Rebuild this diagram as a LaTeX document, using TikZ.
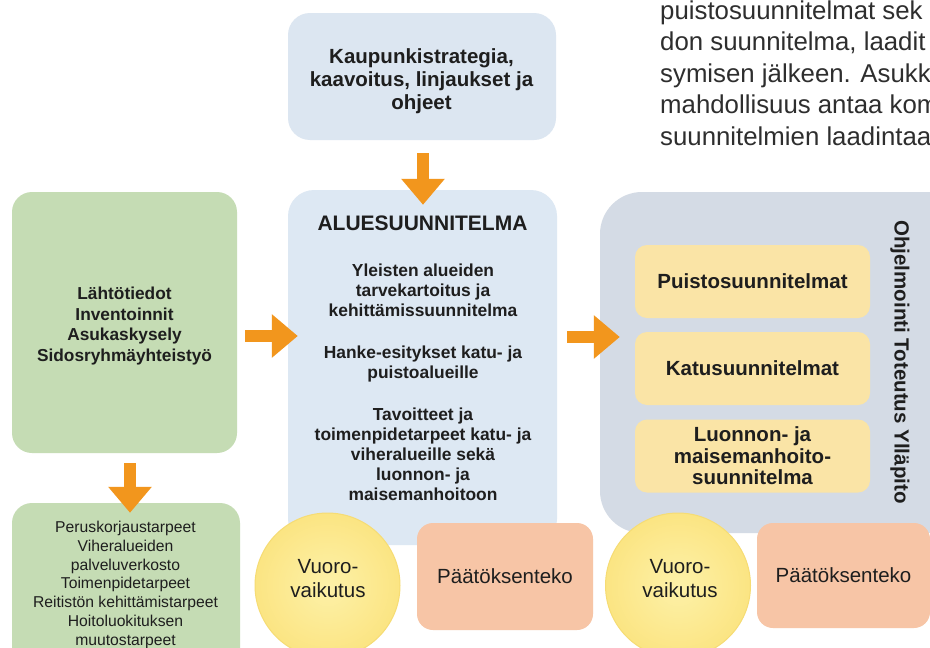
\documentclass[tikz,border=0pt]{standalone}
\usepackage{fontspec}
\setmainfont{Liberation Sans}
\usetikzlibrary{arrows.meta,calc}
\definecolor{blueA}{HTML}{DCE6F1}
\definecolor{blueB}{HTML}{DDE8F3}
\definecolor{greenA}{HTML}{C5DCB4}
\definecolor{grayA}{HTML}{D4DBE5}
\definecolor{yelA}{HTML}{FAE4A6}
\definecolor{salmon}{HTML}{F7C5A6}
\definecolor{orangeA}{HTML}{F2961D}
\definecolor{txt}{HTML}{1E1E1E}
\definecolor{paratxt}{HTML}{2E2E2E}
\definecolor{yc1}{HTML}{FDF1A8}
\definecolor{yc2}{HTML}{FBE37E}
\definecolor{yc3}{HTML}{F0CA45}
\definecolor{yc4}{HTML}{F6DC74}
\pgfdeclareradialshading{ballY}{\pgfpoint{0bp}{0bp}}{color(0bp)=(yc1); color(28bp)=(yc2); color(47bp)=(yc3); color(50bp)=(yc4)}
\begin{document}
\begin{tikzpicture}[x=1pt,y=-1pt,
  every node/.style={inner sep=0pt, text=txt},
  bluebox/.style={fill=blueA, rounded corners=22pt},
  greenbox/.style={fill=greenA, rounded corners=20pt},
  graybox/.style={fill=grayA, rounded corners=42pt},
  yelbox/.style={fill=yelA, rounded corners=12pt, minimum width=235pt, minimum height=73pt,
    font=\fontsize{20.5}{21.5}\selectfont\bfseries, align=center},
  decbox/.style={fill=salmon, rounded corners=16pt, font=\fontsize{20.5}{24}\selectfont},
  ball/.style={circle, minimum size=145pt, shading=ballY, draw=yc4, line width=1pt},
  circtxt/.style={font=\fontsize{20.5}{24}\selectfont, align=center},
  boldA/.style={font=\fontsize{20.5}{23}\selectfont\bfseries, align=center},
  midtxt/.style={font=\fontsize{17.4}{20}\selectfont\bfseries, align=center},
  para/.style={font=\fontsize{25.8}{31.5}\selectfont, text=paratxt, anchor=base west},
  oarrow/.style={draw=orangeA, line width=12pt, -{Triangle[width=42pt,length=26pt]}}
]
\fill[white] (0,0) rectangle (930,648);
\useasboundingbox (0,0) rectangle (930,648);
\clip (0,0) rectangle (930,648);

% paragraph text (cut at right edge)
\node[para] (p1) at (660,19) {puistosuunnitelmat sek};
\node[para] (p2) at (660,50) {don suunnitelma, laadit};
\node[para] (p3) at (660,82) {symisen jälkeen. Asukka};
\node[para] (p4) at (660,113) {mahdollisuus antaa kom};
\node[para] (p5) at (660,145) {suunnitelmien laadintaa};

% boxes
\node[graybox, minimum width=370pt, minimum height=341pt] (gray) at (785,362.5) {};
\node[bluebox, fill=blueB, rounded corners=26pt, minimum width=269pt, minimum height=355pt] (mid) at (422.5,367.5) {};
\node[bluebox, minimum width=268pt, minimum height=127pt] (top) at (422,76.5) {};
\node[greenbox, minimum width=225pt, minimum height=261pt] (green1) at (124.5,322.5) {};
\node[greenbox, minimum width=228pt, minimum height=187pt] (green2) at (126,596.5) {};

% texts (base anchor = baseline of the last line)
\node[boldA, anchor=base] (topt) at (421.5,109) {Kaupunkistrategia,\\kaavoitus, linjaukset ja\\ohjeet};
\node[font=\fontsize{21}{25}\selectfont\bfseries, anchor=base] (mtitle) at (422.5,230) {ALUESUUNNITELMA};
\node[midtxt, anchor=base] (m1) at (423,316) {Yleisten alueiden\\tarvekartoitus ja\\kehittämissuunnitelma};
\node[midtxt, anchor=base] (m2) at (423,378) {Hanke-esitykset katu- ja\\puistoalueille};
\node[midtxt, anchor=base] (m3) at (423,500) {Tavoitteet ja\\toimenpidetarpeet katu- ja\\viheralueille sekä\\luonnon- ja\\maisemanhoitoon};
\node[font=\fontsize{17.3}{20.5}\selectfont\bfseries, align=center, anchor=base] (g1t) at (124.5,361)
  {Lähtötiedot\\Inventoinnit\\Asukaskysely\\Sidosryhmäyhteistyö};
\node[font=\fontsize{15.7}{18.7}\selectfont, align=center, anchor=base] (g2t) at (125.5,645)
  {Peruskorjaustarpeet\\Viheralueiden\\palveluverkosto\\Toimenpidetarpeet\\Reitistön kehittämistarpeet\\Hoitoluokituksen\\muutostarpeet};

% right inner boxes
\node[yelbox] (y1) at (752.5,281.5) {Puistosuunnitelmat};
\node[yelbox] (y2) at (752.5,368.5) {Katusuunnitelmat};
\node[yelbox] (y3) at (752.5,456) {Luonnon- ja\\maisemanhoito-\\suunnitelma};
\node[font=\fontsize{20.5}{24}\selectfont\bfseries, rotate=-90] (vlab) at (900,362) {Ohjelmointi Toteutus Ylläpito};

% arrows
\coordinate (ay1) at (0,336);
\coordinate (ay2) at (0,337);
\draw[oarrow] ($(top.south)+(1,13)$) -- ($(mid.north)+(0.5,15)$);
\draw[oarrow] ($(green1.east |- ay1)+(8,0)$) -- ($(mid.west |- ay1)+(10,0)$);
\draw[oarrow] ($(mid.east |- ay2)+(10,0)$) -- ($(gray.west |- ay2)+(20,0)$);
\draw[oarrow] ($(green1.south)+(5.5,10)$) -- ($(green2.north)+(4,10)$);

% bottom row
\node[ball] (c1) at (327.5,585.5) {};
\node[circtxt, anchor=base] (c1t) at (328,597) {Vuoro-\\vaikutus};
\node[decbox, minimum width=176pt, minimum height=107pt] (d1) at (505,576.5) {Päätöksenteko};
\node[ball] (c2) at (678,585.5) {};
\node[circtxt, anchor=base] (c2t) at (680,597) {Vuoro-\\vaikutus};
\node[decbox, minimum width=173pt, minimum height=105pt] (d2) at (843.5,575.5) {Päätöksenteko};
\end{tikzpicture}
\end{document}
